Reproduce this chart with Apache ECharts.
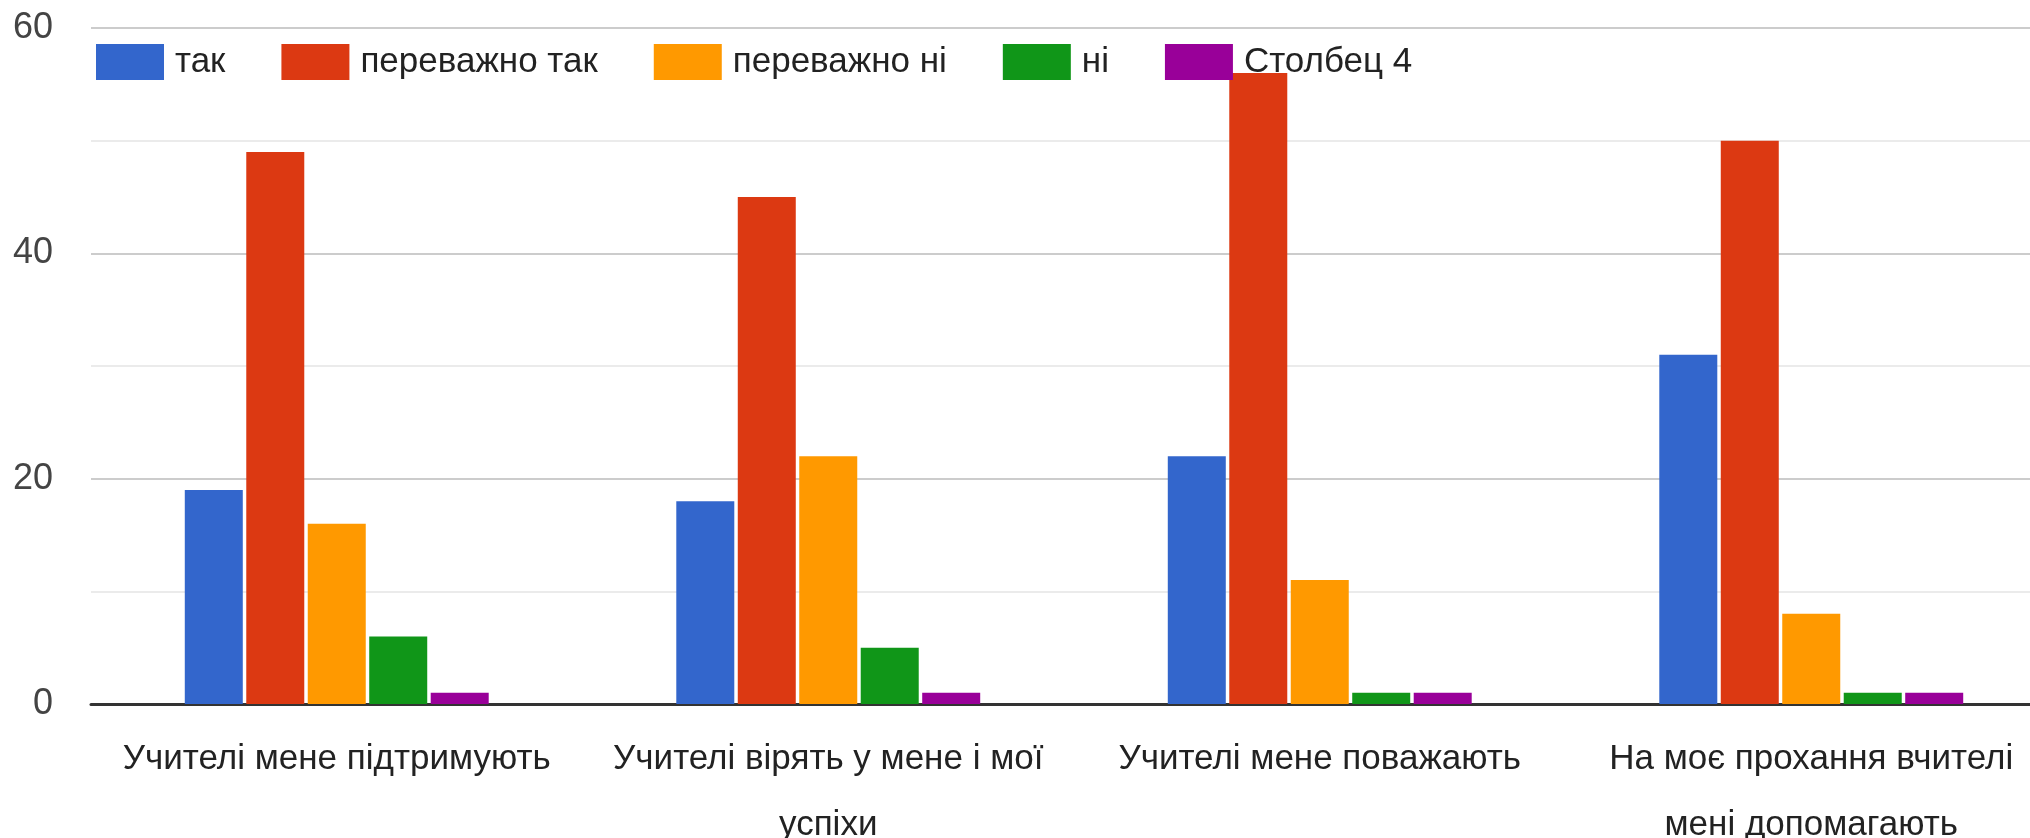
<!DOCTYPE html>
<html><head><meta charset="utf-8">
<script src="https://cdn.jsdelivr.net/npm/echarts@6/dist/echarts.min.js"></script>
<style>html,body{margin:0;padding:0;background:#fff}#c{width:2030px;height:838px}</style>
</head><body><div id="c"></div>
<script>
const categories = ['Учителі мене підтримують', 'Учителі вірять у мене і мої\nуспіхи', 'Учителі мене поважають', 'На моє прохання вчителі\nмені допомагають'];
const seriesNames = ['так', 'переважно так', 'переважно ні', 'ні', 'Столбец 4'];
const tak = [19, 18, 22, 31];
const perevazhnoTak = [49, 45, 56, 50];
const perevazhnoNi = [16, 22, 11, 8];
const ni = [6, 5, 1, 1];
const stovpets4 = [1, 1, 1, 1];
const yTicks = [0, 20, 40, 60];
const colors = ['#3366cc', '#dc3912', '#ff9900', '#109618', '#990099'];
const FONT = '"Liberation Sans", Arial, sans-serif';
const values = [tak, perevazhnoTak, perevazhnoNi, ni, stovpets4];
const chart = echarts.init(document.getElementById('c'));
chart.setOption({
  animation: false,
  color: colors,
  textStyle: {fontFamily: FONT},
  legend: {
    left: 91, top: 39, itemWidth: 68, itemHeight: 36, itemGap: 56,
    icon: 'rect',
    textStyle: {fontSize: 35, color: '#222', fontFamily: FONT, padding: [0, 0, 0, 6]},
    data: seriesNames
  },
  grid: {left: 91, top: 28, width: 1966, bottom: 134, outerBoundsMode: 'none', containLabel: false},
  xAxis: {
    type: 'category', data: categories,
    axisTick: {show: false},
    axisLine: {lineStyle: {color: '#333', width: 3}},
    axisLabel: {fontSize: 35, color: '#222', fontFamily: FONT, margin: 22, lineHeight: 66, interval: 0}
  },
  yAxis: {
    type: 'value', min: 0, max: 60, interval: 10,
    axisLine: {show: false}, axisTick: {show: false},
    axisLabel: {fontSize: 36, color: '#444', fontFamily: FONT, margin: 38,
      formatter: v => yTicks.includes(v) ? String(v) : ''},
    splitLine: {lineStyle: {color: ['#cccccc', '#ebebeb'], width: 2}}
  },
  series: seriesNames.map((n, i) => ({
    name: n, type: 'bar', data: values[i], barWidth: 58, barGap: '6%'
  }))
});
</script></body></html>
